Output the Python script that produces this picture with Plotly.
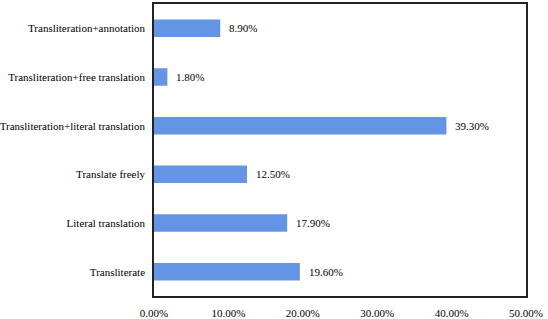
import plotly.graph_objects as go

categories = ["Transliterate", "Literal translation", "Translate freely",
              "Transliteration+literal translation", "Transliteration+free translation",
              "Transliteration+annotation"]
values = [19.6, 17.9, 12.5, 39.3, 1.8, 8.9]
tick_vals = [0, 10, 20, 30, 40, 50]
tick_text = ["0.00%", "10.00%", "20.00%", "30.00%", "40.00%", "50.00%"]

font = dict(family="Liberation Serif", size=11, color="#000000")

fig = go.Figure(go.Bar(
    y=categories, x=values, orientation="h",
    marker=dict(color="#6495E5", line=dict(width=0)),
    width=0.36,
))
for c, v in zip(categories, values):
    fig.add_annotation(x=v, y=c, text=f"{v:.2f}%", showarrow=False,
                       xanchor="left", xshift=7, font=font)
fig.update_layout(
    width=548, height=319,
    margin=dict(l=154, r=22, t=4, b=23),
    paper_bgcolor="white", plot_bgcolor="white",
    font=font, showlegend=False,
    xaxis=dict(range=[0, 50], tickvals=tick_vals, ticktext=tick_text,
               showgrid=False, zeroline=False, showline=True, linecolor="#222222",
               linewidth=1.5, mirror=True, ticks="", ticklabelstandoff=6,
               automargin=False),
    yaxis=dict(showgrid=False, showline=True, linecolor="#222222", linewidth=1.5,
               mirror=True, ticks="", ticklabelstandoff=5, automargin=False,
               categoryorder="array", categoryarray=categories),
)
fig.write_html("out.html", config={"displayModeBar": False},
               post_script="document.body.style.margin='0';document.body.style.overflow='hidden';")
